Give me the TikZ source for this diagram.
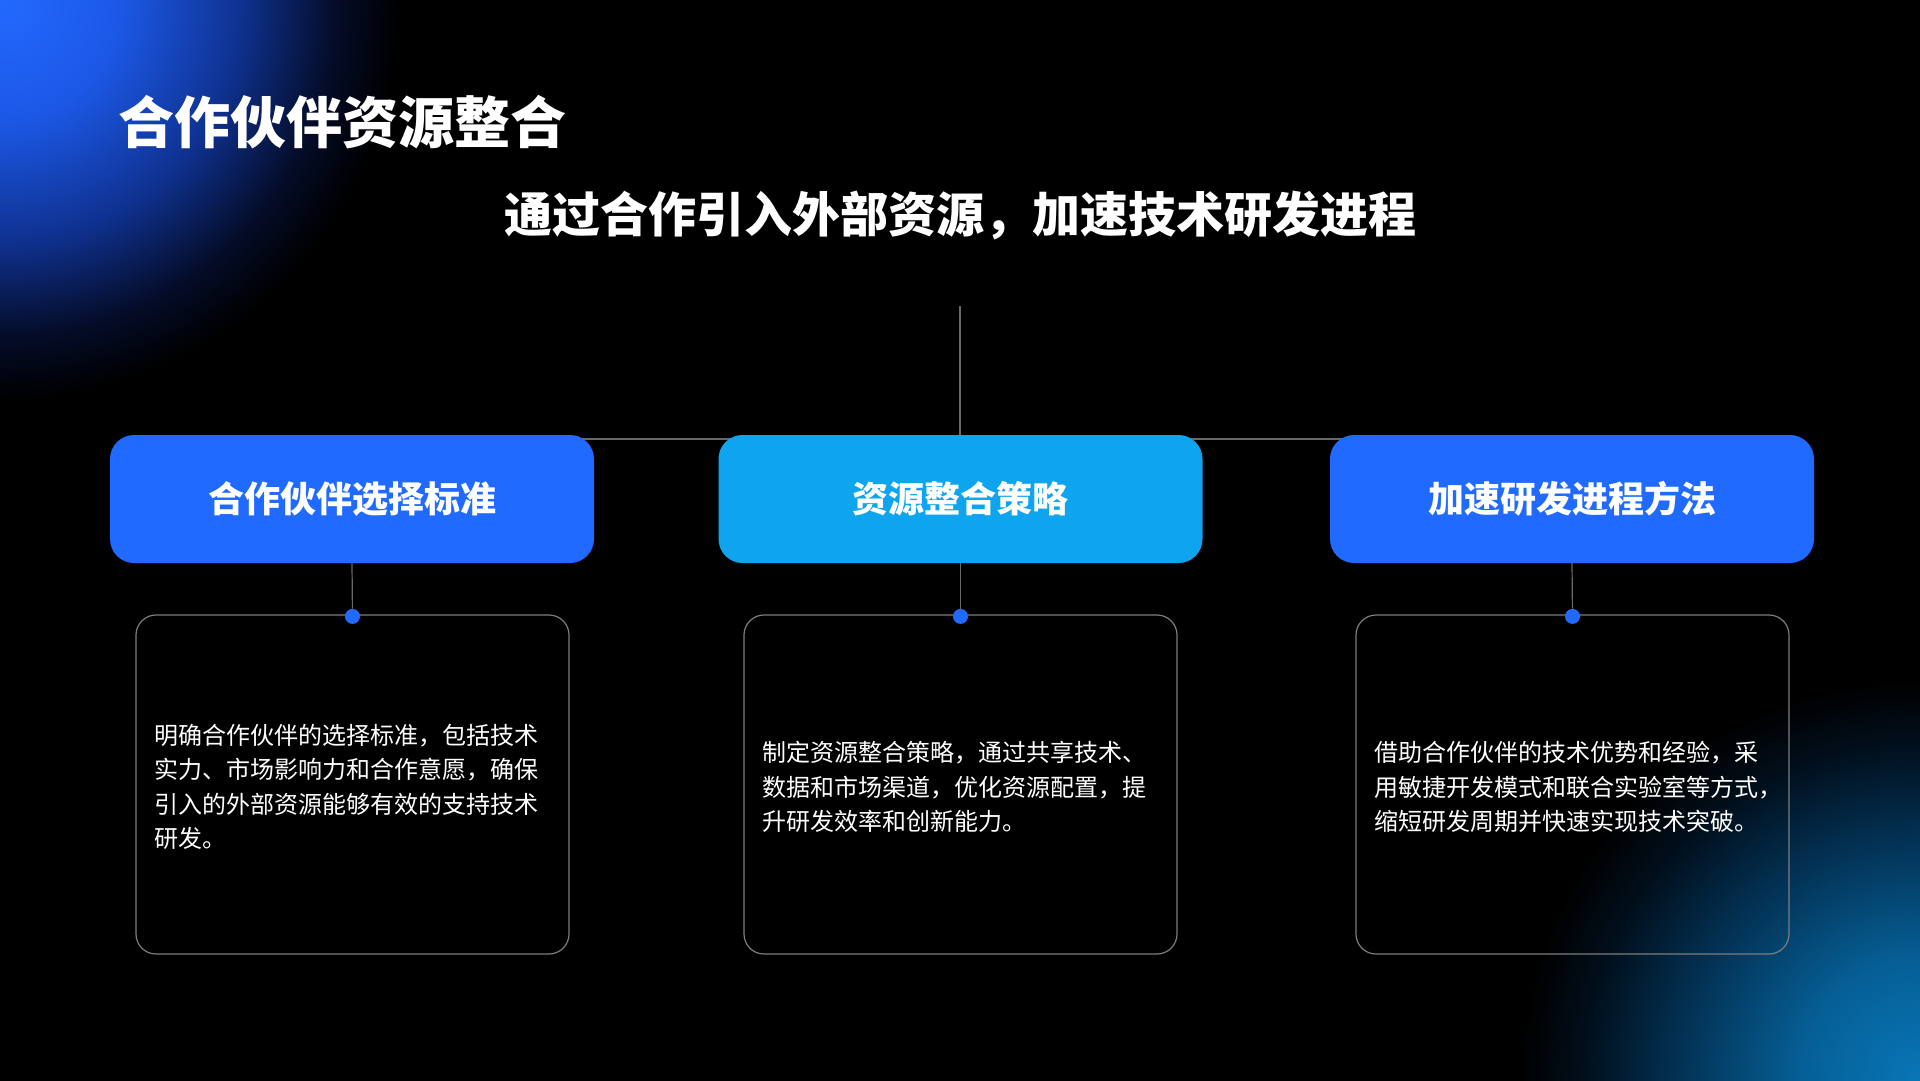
\documentclass[tikz,border=0pt]{standalone}
\usepackage{fontspec}
\setmainfont{Noto Sans CJK SC}
\usetikzlibrary{calc}
\definecolor{bluebox}{RGB}{33,106,255}
\definecolor{skybox}{RGB}{14,165,238}
\definecolor{linegray}{RGB}{105,105,105}
\definecolor{bordergray}{RGB}{125,125,125}
\definecolor{tlA}{RGB}{35,105,255}
\definecolor{tlB}{RGB}{28,88,230}
\definecolor{tlC}{RGB}{15,50,145}
\definecolor{tlD}{RGB}{4,12,40}
\definecolor{brA}{RGB}{8,118,182}
\definecolor{brB}{RGB}{6,95,150}
\definecolor{brC}{RGB}{3,50,85}
\definecolor{brD}{RGB}{1,15,28}
\pgfdeclareradialshading{tlglow}{\pgfpoint{0bp}{0bp}}{color(0bp)=(tlA); color(7.5bp)=(tlB); color(15bp)=(tlC); color(21bp)=(tlD); color(25bp)=(black); color(50bp)=(black)}
\pgfdeclareradialshading{brglow}{\pgfpoint{0bp}{0bp}}{color(0bp)=(brA); color(7.5bp)=(brB); color(15bp)=(brC); color(21bp)=(brD); color(25bp)=(black); color(50bp)=(black)}
\tikzset{
  headbox/.style={minimum width=484pt, minimum height=128pt, rounded corners=24pt, inner sep=0pt, text=white, font=\fontsize{36}{40}\selectfont\bfseries},
  descbox/.style={minimum width=433pt, minimum height=339pt, rounded corners=20pt, draw=bordergray, line width=1.2pt, inner sep=0pt},
  desctext/.style={anchor=west, inner sep=0pt, align=left, text=white, font=\fontsize{24}{34.3}\selectfont},
  dotnode/.style={circle, fill=bluebox, minimum size=15pt, inner sep=0pt},
  conn/.style={draw=linegray, line width=1.2pt},
}
\begin{document}
\begin{tikzpicture}[x=1pt, y=-1pt]
\useasboundingbox (0,0) rectangle (1920,1080);
\fill[black] (-10,-10) rectangle (1930,1090);
\begin{scope}
  \clip (-10,-10) rectangle (1930,1090);
  \shade[shading=tlglow] (0,0) circle (400pt);
  \shade[shading=brglow] (1920,1080) circle (400pt);
\end{scope}

% titles
\node[anchor=west, inner sep=0pt, text=white, font=\fontsize{56}{60}\selectfont\bfseries] (title) at (118,122) {合作伙伴资源整合};
\node[inner sep=0pt, text=white, font=\fontsize{48}{52}\selectfont\bfseries] (subtitle) at (960,215) {通过合作引入外部资源，加速技术研发进程};

% hierarchy lines
\coordinate (top) at (960,306);
\coordinate (hub) at (960,439);
\coordinate (j1) at (352,439);
\coordinate (j3) at (1572,439);
\draw[conn] (top) -- (hub);
\draw[conn] (j1) -- (j3);

% heading boxes
\node[headbox, fill=bluebox] (h1) at (352,499) {合作伙伴选择标准};
\node[headbox, fill=skybox] (h2) at (960.5,499) {资源整合策略};
\node[headbox, fill=bluebox] (h3) at (1572,499) {加速研发进程方法};

% description boxes
\node[descbox] (d1) at (352.5,784.5) {};
\node[descbox] (d2) at (960.5,784.5) {};
\node[descbox] (d3) at (1572.5,784.5) {};

% connectors and dots
\node[dotnode] (p1) at ($(d1.north)+(0,2)$) {};
\node[dotnode] (p2) at ($(d2.north)+(0,2)$) {};
\node[dotnode] (p3) at ($(d3.north)+(0,2)$) {};
\draw[conn] (h1.south) -- (p1);
\draw[conn] (h2.south) -- (p2);
\draw[conn] (h3.south) -- (p3);

% description texts
\node[desctext] (t1) at ($(d1.west)+(19,2.5)$) {明确合作伙伴的选择标准，包括技术\\实力、市场影响力和合作意愿，确保\\引入的外部资源能够有效的支持技术\\研发。};
\node[desctext] (t2) at ($(d2.west)+(19,2.5)$) {制定资源整合策略，通过共享技术、\\数据和市场渠道，优化资源配置，提\\升研发效率和创新能力。};
\node[desctext] (t3) at ($(d3.west)+(19,2.5)$) {借助合作伙伴的技术优势和经验，采\\用敏捷开发模式和联合实验室等方式，\\缩短研发周期并快速实现技术突破。};
\end{tikzpicture}
\end{document}
